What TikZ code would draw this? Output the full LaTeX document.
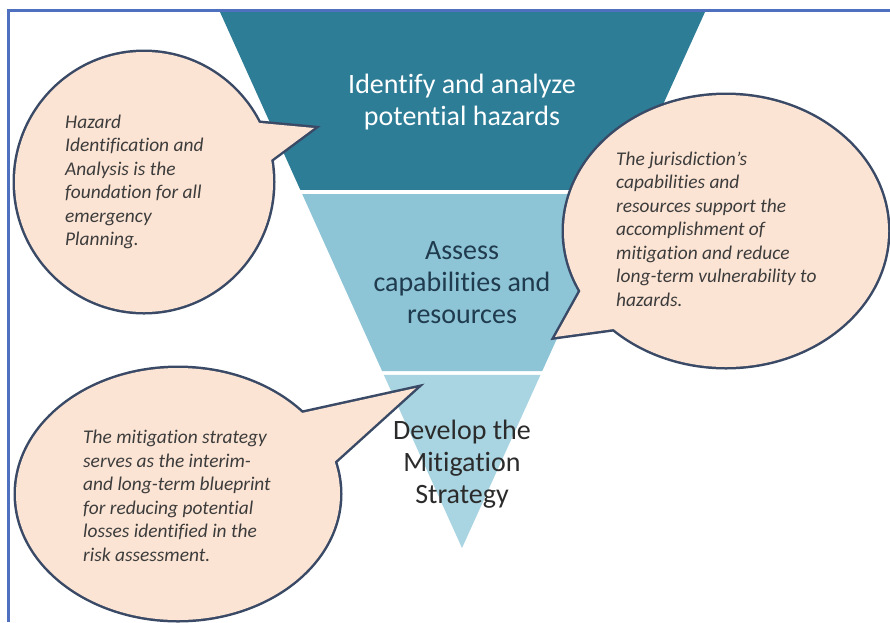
\documentclass[tikz,border=0pt]{standalone}
\usepackage{fontspec}
\setmainfont{Carlito}[Ligatures=NoCommon]
\usetikzlibrary{shapes.geometric,calc}
\definecolor{frameblue}{HTML}{4F6FBF}
\definecolor{bandA}{HTML}{2D7D97}
\definecolor{bandB}{HTML}{8DC5D7}
\definecolor{bandC}{HTML}{A9D5E2}
\definecolor{peach}{HTML}{FCE4D4}
\definecolor{edge}{HTML}{3A4A66}
\definecolor{notegray}{HTML}{3C3C3C}
\definecolor{midtext}{HTML}{1F3B4D}
\definecolor{lowtext}{HTML}{2B2B2B}
\begin{document}
\begin{tikzpicture}[x=1pt,y=-1pt,
  bubble/.style={ellipse, draw=edge, line width=5pt, fill=peach, inner sep=0pt},
  ptrline/.style={draw=edge, line width=5pt, line join=miter, fill=peach},
  note/.style={anchor=west, align=left, inner sep=0pt, text=notegray, font=\fontsize{19.4}{23.5}\selectfont\itshape},
  steplabel/.style={align=center, inner sep=0pt, font=\fontsize{28}{32}\selectfont}]
\useasboundingbox (0,0) rectangle (890,622);
\clip (0,0) rectangle (890,622);
\fill[white] (0,0) rectangle (890,622);
% inverted triangle
\coordinate (TL) at (220,12);
\coordinate (TR) at (705,12);
\coordinate (AP) at (462,548);
\fill[bandA] (TL) -- (TR) -- ($(TR)!0.332!(AP)$) -- ($(TL)!0.332!(AP)$) -- cycle;
\fill[bandB] ($(TL)!0.3396!(AP)$) -- ($(TR)!0.3396!(AP)$) -- ($(TR)!0.6698!(AP)$) -- ($(TL)!0.6698!(AP)$) -- cycle;
\fill[bandC] ($(TL)!0.6772!(AP)$) -- ($(TR)!0.6772!(AP)$) -- (AP) -- cycle;
\node[steplabel, text=white] (s1) at (462,102) {Identify and analyze\\potential hazards};
\node[steplabel, text=midtext] (s2) at (462,283) {Assess\\capabilities and\\resources};
\node[steplabel, text=lowtext] (s3) at (462,464) {Develop the\\Mitigation\\Strategy};
% bubble 1
\node[bubble, minimum width=258pt, minimum height=260pt] (b1) at (144,182) {};
\coordinate (t1) at (314,128); \coordinate (b1a) at (195,117); \coordinate (b1b) at (229,191);
\draw[ptrline] (b1a) -- (t1) -- (b1b) -- cycle;
\fill[peach] (b1.center) ellipse [x radius=129, y radius=130];
\fill[peach] (b1a) -- (t1) -- (b1b) -- cycle;
% bubble 2
\node[bubble, minimum width=324pt, minimum height=272pt] (b2) at (726,231) {};
\coordinate (t2) at (555,337); \coordinate (b2a) at (604,249); \coordinate (b2b) at (672,321);
\draw[ptrline] (b2a) -- (t2) -- (b2b) -- cycle;
\fill[peach] (b2.center) ellipse [x radius=162, y radius=136];
\fill[peach] (b2a) -- (t2) -- (b2b) -- cycle;
% bubble 3
\node[bubble, minimum width=324pt, minimum height=252pt] (b3) at (178,494) {};
\coordinate (t3) at (416,388); \coordinate (b3a) at (220,431); \coordinate (b3b) at (279,512);
\draw[ptrline] (b3a) -- (t3) -- (b3b) -- cycle;
\fill[peach] (b3.center) ellipse [x radius=162, y radius=126];
\fill[peach] (b3a) -- (t3) -- (b3b) -- cycle;
% notes
\node[note] (n1) at (65,182) {Hazard\\Identification and\\Analysis is the\\foundation for all\\emergency\\Planning.};
\node[note] (n2) at (616,229) {The jurisdiction’s\\capabilities and\\resources support the\\accomplishment of\\mitigation and reduce\\long-term vulnerability to\\hazards.};
\node[note] (n3) at (83,496) {The mitigation strategy\\serves as the interim-\\and long-term blueprint\\for reducing potential\\losses identified in the\\risk assessment.};
% frame
\draw[frameblue, line width=3pt] (8,622) -- (8,10) -- (890,10);
\end{tikzpicture}
\end{document}
